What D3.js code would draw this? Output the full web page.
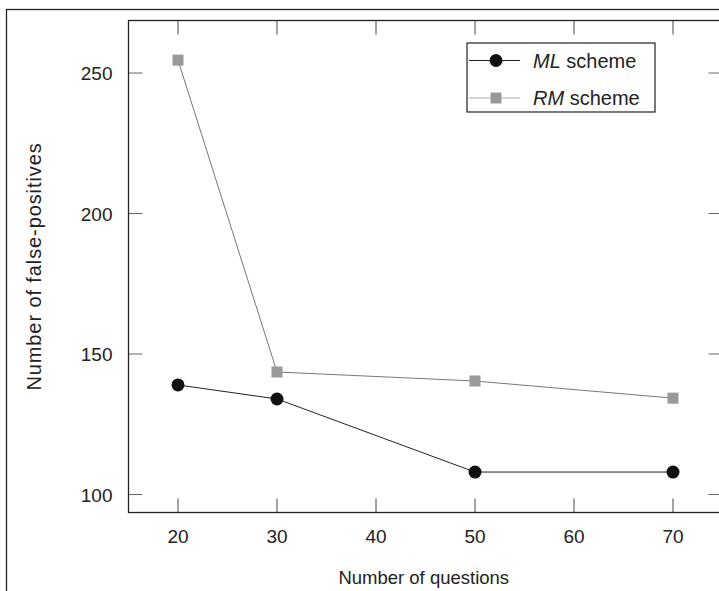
<!DOCTYPE html>
<html>
<head>
<meta charset="utf-8">
<script src="https://cdn.jsdelivr.net/npm/d3@7"></script>
<style>
  body { margin: 0; background: white; }
  text { font-family: "Liberation Sans", Arial, sans-serif; fill: #222; }
</style>
</head>
<body>
<div id="chart"></div>
<script>
// data
let questions = [20, 30, 50, 70];
let mlValues = [139, 134, 108, 108];
let rmValues = [254.6, 143.6, 140.4, 134.3];
let xTicks = [20, 30, 40, 50, 60, 70];
let yTicks = [100, 150, 200, 250];
let seriesNames = ['ML', 'RM'];

let dim = { width: 719, height: 591 };
let plot = { left: 128.5, top: 20.5, right: 722.5, bottom: 512.5 };

let svg = d3.select('#chart').append('svg')
    .attr('width', dim.width)
    .attr('height', dim.height);

// outer frame (runs off the right/bottom edge)
svg.append('rect')
    .attr('x', 6.5).attr('y', 9.5)
    .attr('width', 800).attr('height', 700)
    .attr('fill', 'none').attr('stroke', '#222').attr('stroke-width', 1.3);

let x = d3.scaleLinear().domain([15, 75]).range([plot.left, plot.right]);
let y = d3.scaleLinear().domain([93.6, 268.7]).range([plot.bottom, plot.top]);

let tickLen = 14;
let g = svg.append('g');

// ticks on all four sides, pointing inward
g.selectAll('line.xb').data(xTicks).join('line')
    .attr('class', 'xb')
    .attr('x1', d => x(d)).attr('x2', d => x(d))
    .attr('y1', plot.bottom).attr('y2', plot.bottom - tickLen)
    .attr('stroke', '#444').attr('stroke-width', 1);
g.selectAll('line.xt').data(xTicks).join('line')
    .attr('class', 'xt')
    .attr('x1', d => x(d)).attr('x2', d => x(d))
    .attr('y1', plot.top).attr('y2', plot.top + tickLen)
    .attr('stroke', '#444').attr('stroke-width', 1);
g.selectAll('line.yl').data(yTicks).join('line')
    .attr('class', 'yl')
    .attr('x1', plot.left).attr('x2', plot.left + tickLen)
    .attr('y1', d => y(d)).attr('y2', d => y(d))
    .attr('stroke', '#666').attr('stroke-width', 1);
g.selectAll('line.yr').data(yTicks).join('line')
    .attr('class', 'yr')
    .attr('x1', plot.right).attr('x2', plot.right - tickLen)
    .attr('y1', d => y(d)).attr('y2', d => y(d))
    .attr('stroke', '#666').attr('stroke-width', 1);

// plot frame
g.append('rect')
    .attr('x', plot.left).attr('y', plot.top)
    .attr('width', plot.right - plot.left).attr('height', plot.bottom - plot.top)
    .attr('fill', 'none').attr('stroke', '#222').attr('stroke-width', 1.3);

// tick labels
g.selectAll('text.xl').data(xTicks).join('text')
    .attr('class', 'xl')
    .attr('x', d => x(d)).attr('y', plot.bottom + 30)
    .attr('text-anchor', 'middle').attr('font-size', 19)
    .text(d => d);
g.selectAll('text.ylab').data(yTicks).join('text')
    .attr('class', 'ylab')
    .attr('x', plot.left - 16).attr('y', d => y(d) + 7)
    .attr('text-anchor', 'end').attr('font-size', 19)
    .text(d => d);

// axis titles
svg.append('text')
    .attr('x', (plot.left + 719) / 2).attr('y', 584)
    .attr('text-anchor', 'middle').attr('font-size', 18.5)
    .text('Number of questions');
svg.append('text')
    .attr('transform', 'translate(41,' + ((plot.top + plot.bottom) / 2) + ') rotate(-90)')
    .attr('text-anchor', 'middle').attr('font-size', 20)
    .attr('letter-spacing', 0.9)
    .text('Number of false-positives');

let line = d3.line().x(d => x(d[0])).y(d => y(d[1]));
let rmData = d3.zip(questions, rmValues);
let mlData = d3.zip(questions, mlValues);

// RM series
g.append('path').datum(rmData)
    .attr('d', line).attr('fill', 'none')
    .attr('stroke', '#777').attr('stroke-width', 1);
g.selectAll('rect.rm').data(rmData).join('rect')
    .attr('class', 'rm')
    .attr('x', d => x(d[0]) - 5.5).attr('y', d => y(d[1]) - 5.5)
    .attr('width', 11).attr('height', 11)
    .attr('fill', '#999');

// ML series
g.append('path').datum(mlData)
    .attr('d', line).attr('fill', 'none')
    .attr('stroke', '#222').attr('stroke-width', 1);
g.selectAll('circle.ml').data(mlData).join('circle')
    .attr('class', 'ml')
    .attr('cx', d => x(d[0])).attr('cy', d => y(d[1]))
    .attr('r', 6.5).attr('fill', '#111');

// legend
let lg = svg.append('g').attr('transform', 'translate(467,43)');
lg.append('rect')
    .attr('x', 0).attr('y', 0).attr('width', 188).attr('height', 69)
    .attr('fill', 'white').attr('stroke', '#222').attr('stroke-width', 1.2);
let rows = [
  { name: seriesNames[0], yy: 17.5 },
  { name: seriesNames[1], yy: 55 }
];
lg.append('line').attr('x1', 2).attr('x2', 53).attr('y1', rows[0].yy).attr('y2', rows[0].yy)
    .attr('stroke', '#222').attr('stroke-width', 1);
lg.append('circle').attr('cx', 29).attr('cy', rows[0].yy).attr('r', 6.5).attr('fill', '#111');
lg.append('line').attr('x1', 2).attr('x2', 53).attr('y1', rows[1].yy).attr('y2', rows[1].yy)
    .attr('stroke', '#aaa').attr('stroke-width', 1);
lg.append('rect').attr('x', 23.5).attr('y', rows[1].yy - 5.5).attr('width', 11).attr('height', 11).attr('fill', '#999');
rows.forEach(function(r){
  let t = lg.append('text').attr('x', 66).attr('y', r.yy + 7).attr('font-size', 20);
  t.append('tspan').attr('font-style', 'italic').text(r.name);
  t.append('tspan').text(' scheme');
});
</script>
</body>
</html>
